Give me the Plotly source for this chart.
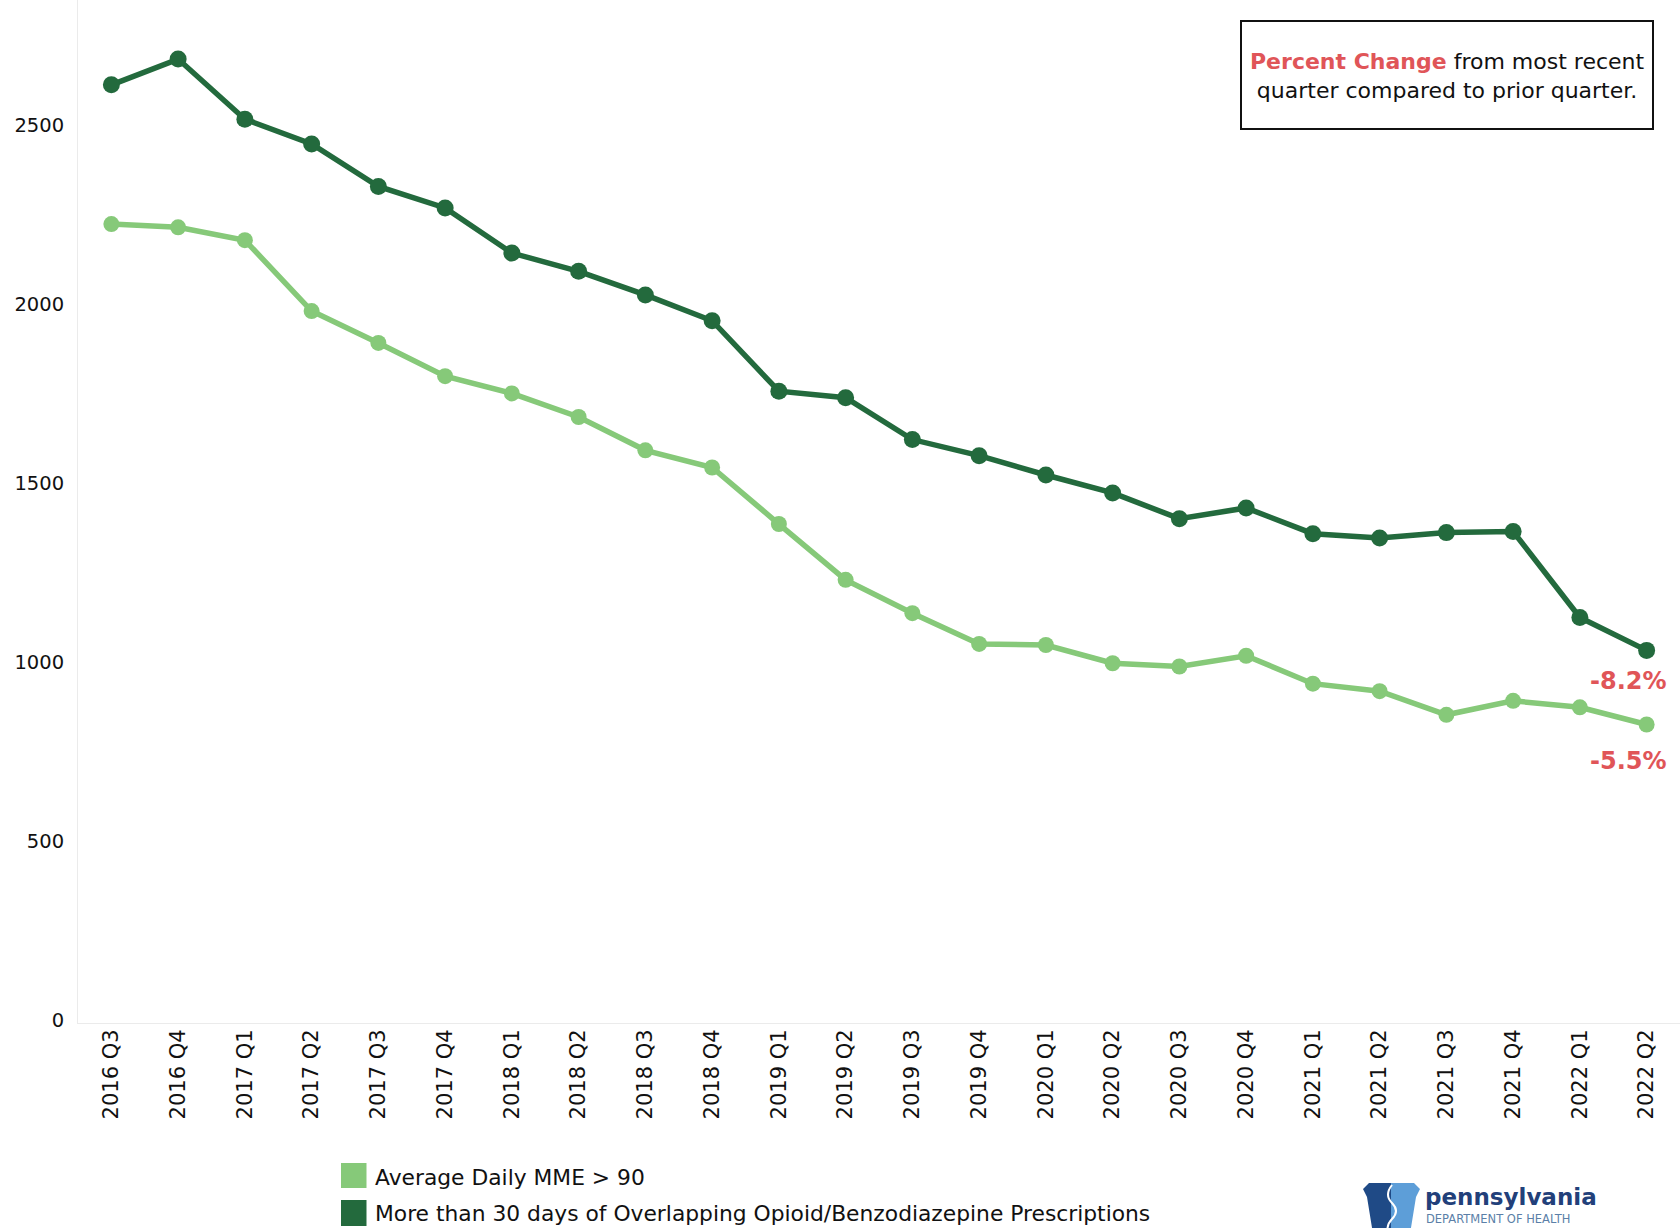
import plotly.graph_objects as go

quarters = ["2016 Q3", "2016 Q4",
            "2017 Q1", "2017 Q2", "2017 Q3", "2017 Q4",
            "2018 Q1", "2018 Q2", "2018 Q3", "2018 Q4",
            "2019 Q1", "2019 Q2", "2019 Q3", "2019 Q4",
            "2020 Q1", "2020 Q2", "2020 Q3", "2020 Q4",
            "2021 Q1", "2021 Q2", "2021 Q3", "2021 Q4",
            "2022 Q1", "2022 Q2"]

overlap_rx = [2613, 2685, 2517, 2448, 2329, 2269, 2143, 2092, 2026, 1954,
              1757, 1739, 1622, 1577, 1523, 1473, 1401, 1431, 1359, 1347,
              1362, 1365, 1125, 1033]

mme_over_90 = [2224, 2215, 2179, 1981, 1892, 1799, 1751, 1685, 1592, 1544,
               1386, 1230, 1137, 1051, 1048, 997, 988, 1018, 940, 919,
               853, 892, 874, 826]

series_names = ["Average Daily MME > 90",
                "More than 30 days of Overlapping Opioid/Benzodiazepine Prescriptions"]
pct_labels = ["-5.5%", "-8.2%"]
y_ticks = [0, 500, 1000, 1500, 2000, 2500]

LIGHT = "#86c979"
DARK = "#236a3d"
RED = "#e05558"
FONT = "DejaVu Sans, Verdana, sans-serif"

W, H = 1680, 1228
L, R, T, B = 78, 0, 0, 205
PW, PH = W - L - R, H - T - B


def px(x):
    return (x - L) / PW


def py(y):
    return (H - B - y) / PH


fig = go.Figure()
fig.add_trace(go.Scatter(x=quarters, y=mme_over_90, mode="lines+markers",
                         name=series_names[0],
                         line=dict(color=LIGHT, width=5.5),
                         marker=dict(color=LIGHT, size=16),
                         showlegend=False))
fig.add_trace(go.Scatter(x=quarters, y=overlap_rx, mode="lines+markers",
                         name=series_names[1],
                         line=dict(color=DARK, width=5.5),
                         marker=dict(color=DARK, size=17),
                         showlegend=False))

shapes = []
annotations = []

# percent change labels
annotations.append(dict(x=quarters[-1], y=overlap_rx[-1], xref="x", yref="y",
                        text="<b>%s</b>" % pct_labels[1], showarrow=False,
                        xanchor="center", yanchor="middle", xshift=-18, yshift=-31,
                        font=dict(family=FONT, size=24, color=RED)))
annotations.append(dict(x=quarters[-1], y=mme_over_90[-1], xref="x", yref="y",
                        text="<b>%s</b>" % pct_labels[0], showarrow=False,
                        xanchor="center", yanchor="middle", xshift=-18, yshift=-37,
                        font=dict(family=FONT, size=24, color=RED)))

# info box
shapes.append(dict(type="rect", xref="paper", yref="paper",
                   x0=px(1241), x1=px(1653), y0=py(129), y1=py(21),
                   line=dict(color="#111111", width=2), fillcolor="white"))
annotations.append(dict(x=px(1447), y=py(76), xref="paper", yref="paper",
                        text="<span style='color:%s'><b>Percent Change</b></span> from most recent<br>quarter compared to prior quarter." % RED,
                        showarrow=False, align="center", xanchor="center", yanchor="middle",
                        font=dict(family=FONT, size=22, color="#111111")))

# manual legend
leg = [(series_names[0], LIGHT, 1163, 1188, 1177),
       (series_names[1], DARK, 1200, 1226, 1213)]
for name, col, y0, y1, yc in leg:
    shapes.append(dict(type="rect", xref="paper", yref="paper",
                       x0=px(341), x1=px(366.5), y0=py(y1), y1=py(y0),
                       line=dict(width=0), fillcolor=col))
    annotations.append(dict(x=px(373), y=py(yc), xref="paper", yref="paper",
                            text=name, showarrow=False, xanchor="left", yanchor="middle",
                            font=dict(family=FONT, size=21.8, color="#111111")))

# logo (keystone + text)
ks_top, ks_bot = 1183, 1240
dark_path = "M {} {} L {} {} L {} {} L {} {} L {} {} L {} {} Z".format(
    px(1363), py(ks_top + 6), px(1369), py(ks_top), px(1391), py(ks_top),
    px(1391), py(ks_bot), px(1374), py(ks_bot), px(1367), py(ks_top + 14))
light_path = "M {} {} L {} {} L {} {} L {} {} L {} {} L {} {} Z".format(
    px(1391), py(ks_top), px(1414), py(ks_top), px(1420), py(ks_top + 6),
    px(1416), py(ks_top + 14), px(1409), py(ks_bot), px(1391), py(ks_bot))
shapes.append(dict(type="path", xref="paper", yref="paper", path=dark_path,
                   fillcolor="#1f4a86", line=dict(width=0)))
shapes.append(dict(type="path", xref="paper", yref="paper", path=light_path,
                   fillcolor="#5d9ed8", line=dict(width=0)))
shapes.append(dict(type="path", xref="paper", yref="paper",
                   path="M {} {} Q {} {} {} {} T {} {} T {} {}".format(
                       px(1392), py(ks_top + 2), px(1384), py(ks_top + 12),
                       px(1392), py(ks_top + 20), px(1392), py(ks_top + 36),
                       px(1390), py(ks_bot)),
                   line=dict(color="white", width=2)))
annotations.append(dict(x=px(1423), y=py(1197), xref="paper", yref="paper",
                        text="<b>pennsylvania</b>", showarrow=False,
                        xanchor="left", yanchor="middle",
                        font=dict(family=FONT, size=23, color="#22407a")))
annotations.append(dict(x=px(1424), y=py(1219), xref="paper", yref="paper",
                        text="DEPARTMENT OF HEALTH", showarrow=False,
                        xanchor="left", yanchor="middle",
                        font=dict(family=FONT, size=11.5, color="#5b7fa8")))

fig.update_layout(
    width=W, height=H,
    margin=dict(l=L, r=R, t=T, b=B, pad=0),
    paper_bgcolor="white", plot_bgcolor="white",
    font=dict(family=FONT, size=20, color="#111111"),
    shapes=shapes, annotations=annotations,
    showlegend=False,
    xaxis=dict(type="category", range=[-0.5, 23.5], tickangle=-90,
               showgrid=False, zeroline=False, showline=True,
               linecolor="#ebebeb", linewidth=1, ticks="",
               ticklabelstandoff=-3,
               tickfont=dict(family=FONT, size=21, color="#111111")),
    yaxis=dict(range=[-8, 2850], tickvals=y_ticks, showgrid=False,
               zeroline=False, showline=True, linecolor="#ebebeb", linewidth=1,
               ticks="", ticklabelstandoff=9,
               tickfont=dict(family=FONT, size=19.5, color="#111111")),
)

fig.write_html("out.html",
               config={"displayModeBar": False},
               post_script="document.body.style.margin='0';document.body.style.overflow='hidden';")
